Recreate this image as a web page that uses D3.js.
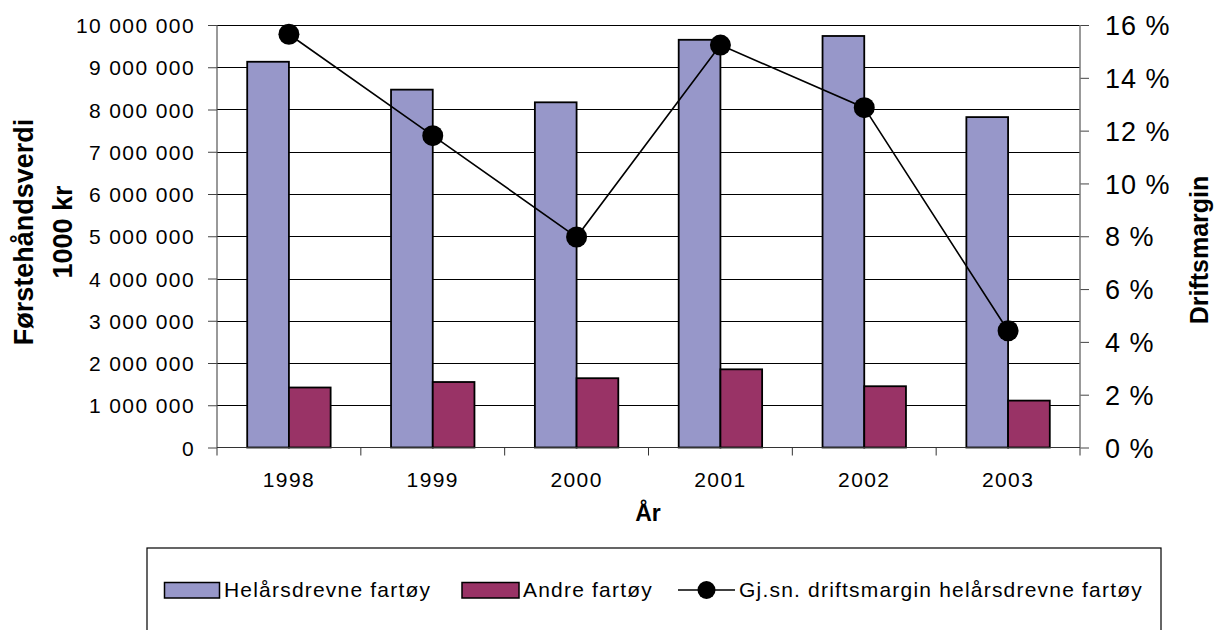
<!DOCTYPE html>
<html>
<head>
<meta charset="utf-8">
<script src="https://cdn.jsdelivr.net/npm/d3@7"></script>
<style>
  body { margin: 0; background: #fff; }
  svg { display: block; font-family: "Liberation Sans", Arial, sans-serif; }
  .tick-lbl { font-size: 21px; letter-spacing: 1.4px; fill: #000; }
  .pct-lbl { font-size: 27px; letter-spacing: 1px; fill: #000; }
  .ttl { font-weight: bold; fill: #000; }
  .leg { font-size: 21px; letter-spacing: 1.2px; fill: #000; }
</style>
</head>
<body>
<div id="chart"></div>
<script>
// values
var years = ['1998', '1999', '2000', '2001', '2002', '2003'];
var helars = [9130000, 8470000, 8170000, 9650000, 9740000, 7820000];
var andre = [1420000, 1550000, 1640000, 1850000, 1450000, 1110000];
var margin = [15.65, 11.81, 7.97, 15.24, 12.87, 4.42];
var leftTicks = [0, 1000000, 2000000, 3000000, 4000000, 5000000, 6000000, 7000000, 8000000, 9000000, 10000000];
var rightTicks = [0, 2, 4, 6, 8, 10, 12, 14, 16];
var seriesNames = ['Helårsdrevne fartøy', 'Andre fartøy', 'Gj.sn. driftsmargin helårsdrevne fartøy'];
var colors = ['#9797c9', '#993366'];

var W = 1216, H = 630;
var plot = {left: 217, right: 1080, top: 25, bottom: 447.5};

var svg = d3.select('#chart').append('svg')
	.attr('width', W).attr('height', H);

var x = d3.scaleBand().domain(years)
	.range([plot.left, plot.right])
	.paddingInner(0.42).paddingOuter(0.21);
var x1 = d3.scaleBand().domain([0, 1]).range([0, x.bandwidth()]);
var y = d3.scaleLinear().domain([0, 10000000]).range([plot.bottom, plot.top]);
var y2 = d3.scaleLinear().domain([0, 16]).range([plot.bottom, plot.top]);

var fmt = function(d){ return d3.format(',')(d).replace(/,/g, ' '); };

// gridlines
svg.append('g').selectAll('line').data(leftTicks.slice(1)).enter()
	.append('line')
	.attr('x1', plot.left).attr('x2', plot.right)
	.attr('y1', function(d){ return Math.round(y(d)) + 0.5; })
	.attr('y2', function(d){ return Math.round(y(d)) + 0.5; })
	.style('stroke', '#000').style('stroke-width', 1);

// bars
var groups = svg.append('g').selectAll('g').data(years).enter()
	.append('g')
	.attr('transform', function(d){ return 'translate(' + x(d) + ',0)'; });

groups.append('rect')
	.attr('x', x1(0)).attr('width', x1.bandwidth())
	.attr('y', function(d, i){ return y(helars[i]); })
	.attr('height', function(d, i){ return plot.bottom - y(helars[i]); })
	.style('fill', colors[0]).style('stroke', '#000').style('stroke-width', 1.8);

groups.append('rect')
	.attr('x', x1(1)).attr('width', x1.bandwidth())
	.attr('y', function(d, i){ return y(andre[i]); })
	.attr('height', function(d, i){ return plot.bottom - y(andre[i]); })
	.style('fill', colors[1]).style('stroke', '#000').style('stroke-width', 1.8);

// left axis
var yAxis = d3.axisLeft(y).tickValues(leftTicks).tickSize(9).tickPadding(13).tickFormat(fmt);
var gy = svg.append('g').attr('transform', 'translate(' + plot.left + ',0)').call(yAxis);
gy.select('.domain').remove();
gy.selectAll('line').style('stroke', '#444');
gy.selectAll('text').attr('class', 'tick-lbl').attr('dy', '0.36em');
gy.attr('font-size', null).attr('font-family', null);
svg.append('line')
	.attr('x1', plot.left).attr('x2', plot.left)
	.attr('y1', plot.top).attr('y2', plot.bottom + 8)
	.style('stroke', '#555').style('stroke-width', 1.2);

// right axis
var yAxis2 = d3.axisRight(y2).tickValues(rightTicks).tickSize(9).tickPadding(16)
	.tickFormat(function(d){ return d + ' %'; });
var gy2 = svg.append('g').attr('transform', 'translate(' + plot.right + ',0)').call(yAxis2);
gy2.select('.domain').remove();
gy2.selectAll('line').style('stroke', '#444');
gy2.selectAll('text').attr('class', 'pct-lbl').attr('dy', '0.36em');
gy2.attr('font-size', null).attr('font-family', null);
svg.append('line')
	.attr('x1', plot.right).attr('x2', plot.right)
	.attr('y1', plot.top).attr('y2', plot.bottom + 8)
	.style('stroke', '#777').style('stroke-width', 1.5);

// x axis
svg.append('line')
	.attr('x1', plot.left).attr('x2', plot.right)
	.attr('y1', plot.bottom).attr('y2', plot.bottom)
	.style('stroke', '#333').style('stroke-width', 1.2);
var bounds = years.map(function(d){ return x(d) - x.step() * x.paddingInner() / 2; });
bounds.push(plot.right);
svg.append('g').selectAll('line').data(bounds.slice(1, -1)).enter()
	.append('line')
	.attr('x1', function(d){ return d; }).attr('x2', function(d){ return d; })
	.attr('y1', plot.bottom).attr('y2', plot.bottom + 8)
	.style('stroke', '#333');
svg.append('g').selectAll('text').data(years).enter()
	.append('text').attr('class', 'tick-lbl')
	.attr('x', function(d){ return x(d) + x.bandwidth() / 2; })
	.attr('y', 487)
	.attr('text-anchor', 'middle')
	.text(function(d){ return d; });

// line series
var line = d3.line()
	.x(function(d, i){ return x(years[i]) + x.bandwidth() / 2; })
	.y(function(d){ return y2(d); });
svg.append('path').datum(margin)
	.attr('d', line)
	.style('fill', 'none').style('stroke', '#000').style('stroke-width', 1.6);
svg.append('g').selectAll('circle').data(margin).enter()
	.append('circle')
	.attr('cx', function(d, i){ return x(years[i]) + x.bandwidth() / 2; })
	.attr('cy', function(d){ return y2(d); })
	.attr('r', 10.5)
	.style('fill', '#000');

// titles
svg.append('text').attr('class', 'ttl')
	.attr('transform', 'translate(33,232) rotate(-90)')
	.attr('text-anchor', 'middle').style('font-size', '27px')
	.text('Førstehåndsverdi');
svg.append('text').attr('class', 'ttl')
	.attr('transform', 'translate(72,232) rotate(-90)')
	.attr('text-anchor', 'middle').style('font-size', '27px')
	.text('1000 kr');
svg.append('text').attr('class', 'ttl')
	.attr('transform', 'translate(1208,250) rotate(-90)')
	.attr('text-anchor', 'middle').style('font-size', '25px')
	.text('Driftsmargin');
svg.append('text').attr('class', 'ttl')
	.attr('x', 648).attr('y', 521)
	.attr('text-anchor', 'middle').style('font-size', '23px')
	.text('År');

// legend
var leg = svg.append('g');
leg.append('rect')
	.attr('x', 147).attr('y', 548).attr('width', 1014).attr('height', 120)
	.style('fill', 'none').style('stroke', '#000').style('stroke-width', 1.2);
leg.append('rect').attr('x', 164.5).attr('y', 582.5).attr('width', 55).attr('height', 15.5)
	.style('fill', colors[0]).style('stroke', '#000').style('stroke-width', 1.5);
leg.append('text').attr('class', 'leg').attr('x', 224).attr('y', 597).text(seriesNames[0]);
leg.append('rect').attr('x', 462).attr('y', 582.5).attr('width', 57).attr('height', 15.5)
	.style('fill', colors[1]).style('stroke', '#000').style('stroke-width', 1.5);
leg.append('text').attr('class', 'leg').attr('x', 523).attr('y', 597).text(seriesNames[1]);
leg.append('line').attr('x1', 678).attr('x2', 735).attr('y1', 590).attr('y2', 590)
	.style('stroke', '#000').style('stroke-width', 1.6);
leg.append('circle').attr('cx', 706.5).attr('cy', 590).attr('r', 9).style('fill', '#000');
leg.append('text').attr('class', 'leg').attr('x', 739).attr('y', 597).text(seriesNames[2]);
</script>
</body>
</html>
